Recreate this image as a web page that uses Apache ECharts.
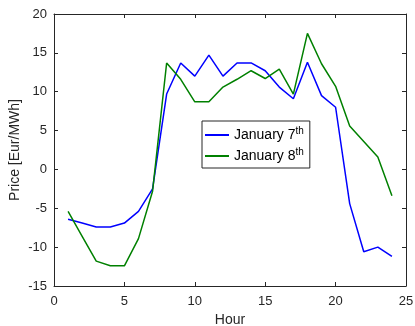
<!DOCTYPE html>
<html>
<head>
<meta charset="utf-8">
<script src="https://cdn.jsdelivr.net/npm/echarts@6/dist/echarts.min.js"></script>
<style>
  html, body { margin: 0; padding: 0; background: #fff; }
  #chart { width: 415px; height: 326px; }
</style>
</head>
<body>
<div id="chart"></div>
<script>
// Hourly day-ahead price, two consecutive days.
const hours = [1, 2, 3, 4, 5, 6, 7, 8, 9, 10, 11, 12, 13, 14, 15, 16, 17, 18, 19, 20, 21, 22, 23, 24];
const jan7 = [-6.4, -6.9, -7.4, -7.4, -6.9, -5.4, -2.5, 9.7, 13.7, 12.0, 14.7, 12.0,
              13.7, 13.7, 12.7, 10.6, 9.1, 13.8, 9.5, 8.0, -4.4, -10.6, -10.0, -11.2];
const jan8 = [-5.4, -8.6, -11.8, -12.4, -12.4, -8.9, -2.8, 13.7, 11.6, 8.7, 8.7, 10.6,
              11.6, 12.7, 11.7, 12.9, 9.7, 17.5, 13.6, 10.7, 5.6, 3.6, 1.6, -3.4];
const seriesNames = ["January 7", "January 8"];
const seriesColors = ["#0000ff", "#008000"];

const ink = "#262626";
const font = "'Liberation Sans', Arial, sans-serif";

const chart = echarts.init(document.getElementById("chart"), null, { renderer: "canvas" });

const boxAxis = (extra) => Object.assign({
  type: "value",
  axisLine: { show: true, onZero: false, lineStyle: { color: ink, width: 1 } },
  axisTick: { show: true, inside: true, length: 4, lineStyle: { color: ink } },
  splitLine: { show: false },
  axisLabel: { color: ink, fontFamily: font, fontSize: 13 },
  nameTextStyle: { color: ink, fontFamily: font, fontSize: 14 },
}, extra);

chart.setOption({
  animation: false,
  grid: { left: 54, right: 9, top: 14, bottom: 40, containLabel: false, outerBoundsMode: "none" },
  xAxis: [
    boxAxis({ min: 0, max: 25, interval: 5, position: "bottom",
      name: "Hour", nameLocation: "middle", nameGap: 25,
      axisLabel: { color: ink, fontFamily: font, fontSize: 13, margin: 9 } }),
    boxAxis({ min: 0, max: 25, interval: 5, position: "top", axisLabel: { show: false } }),
  ],
  yAxis: [
    boxAxis({ min: -15, max: 20, interval: 5, position: "left",
      name: "Price [Eur/MWh]", nameLocation: "middle", nameGap: 32, nameMoveOverlap: false,
      axisLabel: { color: ink, fontFamily: font, fontSize: 13, margin: 7 } }),
    boxAxis({ min: -15, max: 20, interval: 5, position: "right", axisLabel: { show: false } }),
  ],
  legend: {
    orient: "vertical",
    left: 202,
    top: 121,
    backgroundColor: "#fff",
    borderColor: ink,
    borderWidth: 1,
    borderRadius: 0,
    padding: [5, 6, 5, 3],
    itemGap: 5,
    itemWidth: 24,
    itemHeight: 2,
    icon: "rect",
    data: seriesNames,
    formatter: (name) => "{t|" + name + "}{s|th}",
    textStyle: {
      color: "#000",
      fontFamily: font,
      rich: {
        t: { fontSize: 14, fontFamily: font, color: "#000", lineHeight: 18 },
        s: { fontSize: 10, fontFamily: font, color: "#000", verticalAlign: "top", lineHeight: 18 },
      },
    },
  },
  series: seriesNames.map((name, i) => ({
    name,
    type: "line",
    xAxisIndex: 0,
    yAxisIndex: 0,
    symbol: "none",
    color: seriesColors[i],
    lineStyle: { width: 1.5, color: seriesColors[i] },
    data: hours.map((h, k) => [h, [jan7, jan8][i][k]]),
  })),
});
</script>
</body>
</html>
